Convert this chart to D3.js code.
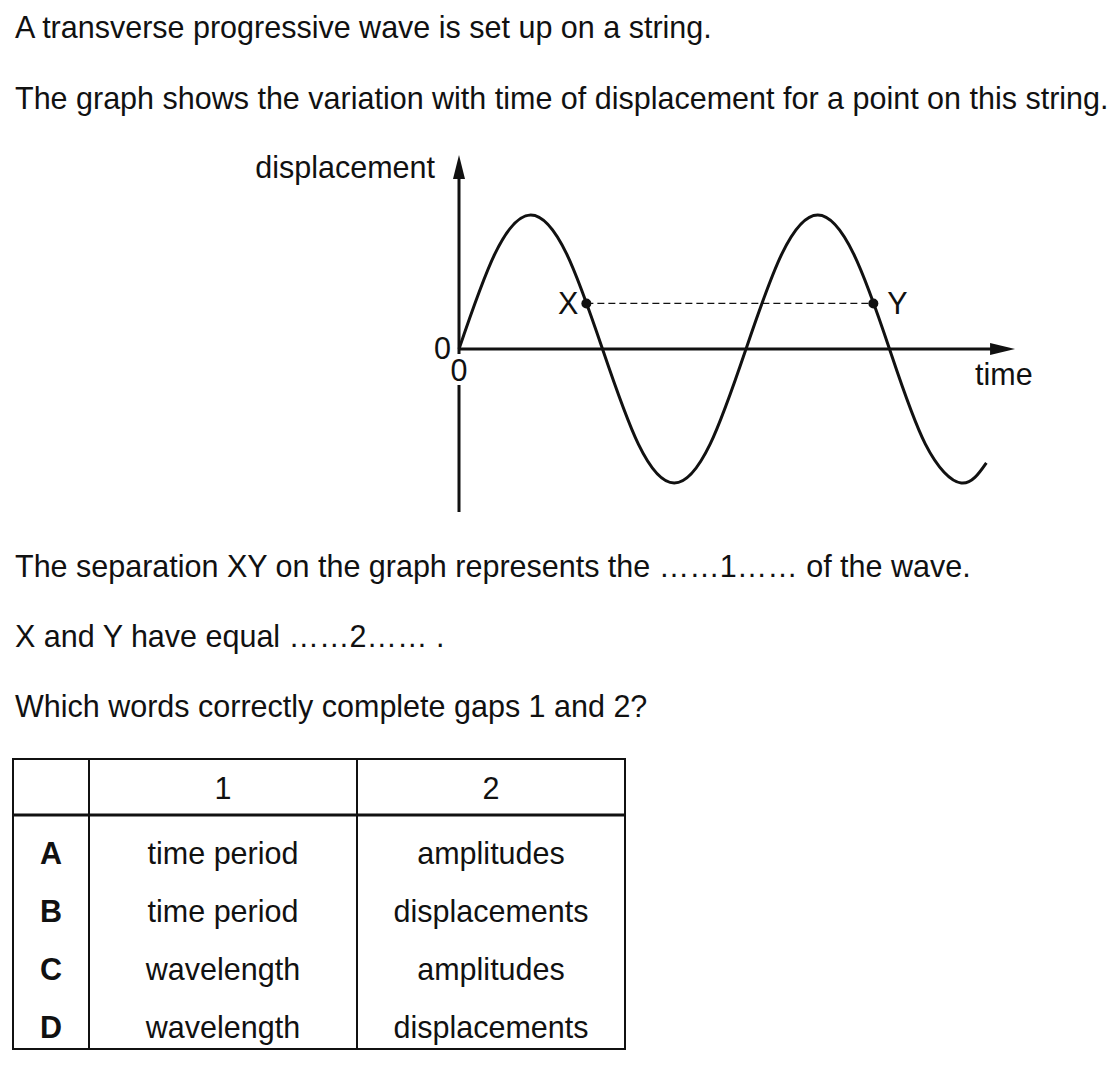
<!DOCTYPE html>
<html><head><meta charset="utf-8">
<script src="https://cdn.jsdelivr.net/npm/d3@7"></script>
<style>
html,body{margin:0;padding:0;background:#fff;}
svg{display:block;}
text{font-family:"Liberation Sans",Arial,sans-serif;fill:#111;}
</style></head>
<body>
<svg id="c" width="1120" height="1068"></svg>
<script>
// ---- data ----
const introLines = [
  "A transverse progressive wave is set up on a string.",
  "The graph shows the variation with time of displacement for a point on this string."
];
const afterLines = [
  "The separation XY on the graph represents the \u2026\u20261\u2026\u2026 of the wave.",
  "X and Y have equal \u2026\u20262\u2026\u2026 .",
  "Which words correctly complete gaps 1 and 2?"
];
// wave samples (time in eighths of a period, displacement in amplitudes)
const waveTime = [0,1,2,3,4,5,6,7,8,9,10,11,12,13,14,14.7];
const waveDisp = [0,0.71,1,0.71,0,-0.71,-1,-0.71,0,0.71,1,0.71,0,-0.71,-1,-0.85];
const markNames = ["X","Y"];
const markTime = [3.55, 11.55];
const markDisp = [0.34, 0.34];
const headers = ["", "1", "2"];
const rowKeys = ["A","B","C","D"];
const gap1 = ["time period","time period","wavelength","wavelength"];
const gap2 = ["amplitudes","displacements","amplitudes","displacements"];

const svg = d3.select("#c");
const FS = 30.5;

// ---- text ----
svg.selectAll("text.intro").data(introLines).join("text")
  .attr("class","intro").attr("x",15).attr("y",(d,i)=>38+i*71)
  .attr("font-size",FS).text(d=>d);
svg.selectAll("text.after").data(afterLines).join("text")
  .attr("class","after").attr("x",15).attr("y",(d,i)=>577+i*70)
  .attr("font-size",FS).text(d=>d);

// ---- graph ----
const x = d3.scaleLinear().domain([0,8]).range([459,746]);
const y = d3.scaleLinear().domain([-1,1]).range([483,215]);
const g = svg.append("g");

// y axis
const yTop = y(1.448), yBot = y(-1.216);
g.append("line").attr("x1",x(0)).attr("x2",x(0)).attr("y1",yTop+20).attr("y2",yBot)
  .attr("stroke","#111").attr("stroke-width",3);
g.append("path").attr("d",`M${x(0)},${yTop} L${x(0)-6},${yTop+24} L${x(0)+6},${yTop+24} Z`).attr("fill","#111");
// x axis
const xEnd = x(15.5);
g.append("line").attr("x1",x(0)).attr("x2",xEnd-20).attr("y1",y(0)).attr("y2",y(0))
  .attr("stroke","#111").attr("stroke-width",3);
g.append("path").attr("d",`M${xEnd},${y(0)} L${xEnd-25},${y(0)-6} L${xEnd-25},${y(0)+6} Z`).attr("fill","#111");

// lower 0 label with white knockout
g.append("rect").attr("x",x(0)-8).attr("y",y(0)+5).attr("width",16).attr("height",31).attr("fill","#fff");
g.append("text").attr("x",x(0)).attr("y",y(0)+32).attr("text-anchor","middle").attr("font-size",FS).text("0");
g.append("text").attr("x",x(0)-8).attr("y",y(0)+10).attr("text-anchor","end").attr("font-size",FS).text("0");

g.append("text").attr("x",435).attr("y",178).attr("text-anchor","end").attr("font-size",FS).text("displacement");
g.append("text").attr("x",975).attr("y",385).attr("font-size",FS).text("time");

// wave
const pts = waveTime.map((t,i)=>[t,waveDisp[i]]);
g.append("path").datum(pts)
  .attr("d", d3.line().x(d=>x(d[0])).y(d=>y(d[1])).curve(d3.curveNatural))
  .attr("fill","none").attr("stroke","#111").attr("stroke-width",3);

// dashed XY
g.append("line").attr("x1",x(markTime[0])).attr("x2",x(markTime[1]))
  .attr("y1",y(markDisp[0])).attr("y2",y(markDisp[1]))
  .attr("stroke","#111").attr("stroke-width",1.2).attr("stroke-dasharray","7,4");
g.selectAll("circle.m").data(markTime).join("circle").attr("class","m")
  .attr("cx",d=>x(d)).attr("cy",(d,i)=>y(markDisp[i])).attr("r",5).attr("fill","#111");
g.selectAll("text.m").data(markNames).join("text").attr("class","m")
  .attr("x",(d,i)=> i===0 ? x(markTime[i])-8 : x(markTime[i])+14)
  .attr("y",(d,i)=>y(markDisp[i])+11)
  .attr("text-anchor",(d,i)=> i===0 ? "end":"start")
  .attr("font-size",FS).text(d=>d);

// ---- table ----
const colX = [13,89,357,625];
const topY = 759, headY = 815, botY = 1049;
const rowY = [864,922,980,1038];
const tg = svg.append("g");
tg.append("rect").attr("x",colX[0]).attr("y",topY).attr("width",colX[3]-colX[0]).attr("height",botY-topY)
  .attr("fill","none").attr("stroke","#111").attr("stroke-width",2);
[colX[1],colX[2]].forEach(cx=>tg.append("line").attr("x1",cx).attr("x2",cx).attr("y1",topY).attr("y2",botY)
  .attr("stroke","#111").attr("stroke-width",2));
tg.append("line").attr("x1",colX[0]).attr("x2",colX[3]).attr("y1",headY).attr("y2",headY)
  .attr("stroke","#111").attr("stroke-width",3);
headers.forEach((h,i)=>{
  tg.append("text").attr("x",(colX[i]+colX[i+1])/2).attr("y",799).attr("text-anchor","middle")
    .attr("font-size",FS).text(h);
});
rowKeys.forEach((k,i)=>{
  tg.append("text").attr("x",(colX[0]+colX[1])/2).attr("y",rowY[i]).attr("text-anchor","middle")
    .attr("font-size",FS).attr("font-weight","bold").text(k);
  tg.append("text").attr("x",(colX[1]+colX[2])/2).attr("y",rowY[i]).attr("text-anchor","middle")
    .attr("font-size",FS).text(gap1[i]);
  tg.append("text").attr("x",(colX[2]+colX[3])/2).attr("y",rowY[i]).attr("text-anchor","middle")
    .attr("font-size",FS).text(gap2[i]);
});
</script>
</body></html>
